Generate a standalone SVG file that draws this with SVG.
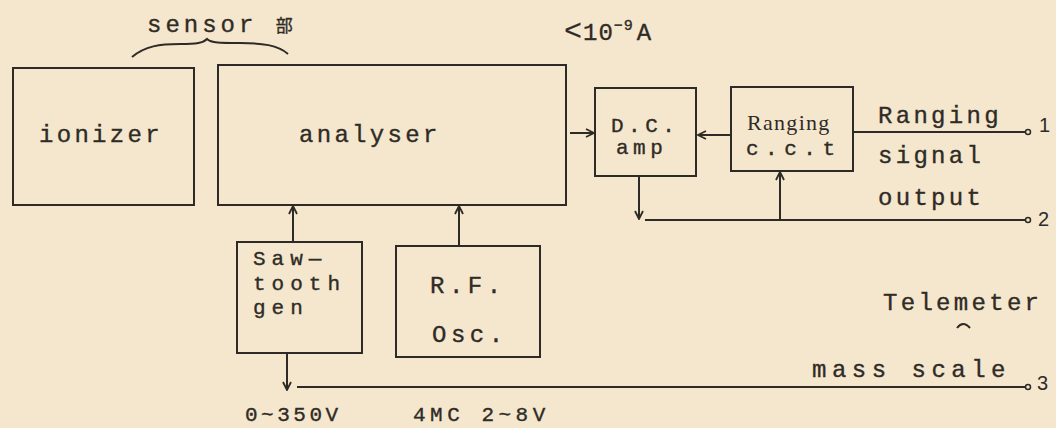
<svg xmlns="http://www.w3.org/2000/svg" width="1056" height="428" viewBox="0 0 1056 428">
<defs>
<style>
.bg{fill:#f4e7cd}
.box{fill:none;stroke:#2e2a25;stroke-width:2}
.ln{fill:none;stroke:#2e2a25;stroke-width:2}
.t{font-family:"Liberation Mono","DejaVu Sans Mono",monospace;font-size:24px;letter-spacing:3.3px;fill:#2f2b26;stroke:#2f2b26;stroke-width:0.35}
.s{font-size:21px;letter-spacing:4.5px}
.n{font-family:"Liberation Sans","DejaVu Sans",sans-serif;font-size:20px;fill:#2f2b26}
.term{fill:#f4e7cd;stroke:#2e2a25;stroke-width:1.5}
</style>
<marker id="ah" viewBox="0 0 10 10" refX="9" refY="5" markerWidth="10" markerHeight="10" markerUnits="userSpaceOnUse" orient="auto">
<path d="M1,1 L9,5 L1,9" fill="none" stroke="#2e2a25" stroke-width="1.8"/>
</marker>
</defs>
<rect class="bg" x="0" y="0" width="1056" height="428"/>

<g id="sensor-label">
<text class="t" x="147" y="32" style="letter-spacing:4px">sensor <tspan font-family="'Noto Sans CJK JP',sans-serif" font-size="17" letter-spacing="0">部</tspan></text>
<path class="ln" d="M132,57 C145,46 160,44 180,44 C197,44 203,43 207,39 C211,43 220,43 240,43 C262,43 278,45 288,54"/>
</g>

<g id="current-label">
<text class="t" x="564" y="40" style="letter-spacing:1px"><tspan font-size="30" stroke-width="0.2">&lt;</tspan>10<tspan font-size="15" dy="-10" letter-spacing="1">−9</tspan><tspan dy="10" dx="3">A</tspan></text>
</g>

<g id="ionizer">
<rect class="box" x="13" y="68" width="181" height="137"/>
<text class="t" x="39" y="142">ionizer</text>
</g>

<g id="analyser">
<rect class="box" x="218" y="65" width="348" height="140"/>
<text class="t" x="299" y="142">analyser</text>
</g>

<g id="dc-amp">
<rect class="box" x="595" y="88" width="101" height="88"/>
<text class="t s" x="611" y="132">D.C.</text>
<text class="t s" x="616" y="154">amp</text>
</g>

<g id="ranging-cct">
<rect class="box" x="731" y="87" width="122" height="84"/>
<text x="747" y="130" font-family="'Liberation Serif',serif" font-size="22" letter-spacing="1.3" fill="#2f2b26">Ranging</text>
<text class="t s" x="746" y="155" style="letter-spacing:6.5px">c.c.t</text>
</g>

<g id="sawtooth-gen">
<rect class="box" x="237" y="242" width="125" height="111"/>
<text class="t s" x="253" y="265" style="letter-spacing:6px">Saw—</text>
<text class="t s" x="253" y="290" style="letter-spacing:6px">tooth</text>
<text class="t s" x="253" y="314" style="letter-spacing:6px">gen</text>
</g>

<g id="rf-osc">
<rect class="box" x="396" y="246" width="144" height="111"/>
<text class="t" x="430" y="293" style="letter-spacing:4.5px">R.F.</text>
<text class="t" x="432" y="342" style="letter-spacing:4.5px">Osc.</text>
</g>

<g id="output-labels">
<text class="t" x="878" y="123">Ranging</text>
<text class="t" x="878" y="163">signal</text>
<text class="t" x="878" y="205">output</text>
<text class="t" x="883" y="310">Telemeter</text>
<path class="ln" d="M957,328 Q963,320 970,328" stroke-width="1.6"/>
<text class="t" x="812" y="377" style="letter-spacing:5.5px">mass scale</text>
<text class="t s" x="245" y="421" style="letter-spacing:3.5px">0~350V</text>
<text class="t s" x="413" y="421" style="letter-spacing:4.5px">4MC 2~8V</text>
<text class="n" x="1039" y="132">1</text>
<text class="n" x="1038" y="226">2</text>
<text class="n" x="1037" y="390">3</text>
</g>

<g id="connectors">
<line class="ln" x1="570" y1="133" x2="594" y2="133" marker-end="url(#ah)"/>
<line class="ln" x1="731" y1="135" x2="698" y2="135" marker-end="url(#ah)"/>
<line class="ln" x1="853" y1="132" x2="1025" y2="132"/>
<circle class="term" cx="1028" cy="132" r="2.5"/>
<line class="ln" x1="639" y1="176" x2="639" y2="219" marker-end="url(#ah)"/>
<line class="ln" x1="645" y1="220" x2="1025" y2="220"/>
<circle class="term" cx="1028" cy="220" r="2.5"/>
<line class="ln" x1="780" y1="220" x2="780" y2="172" marker-end="url(#ah)"/>
<line class="ln" x1="293" y1="242" x2="293" y2="206" marker-end="url(#ah)"/>
<line class="ln" x1="459" y1="246" x2="459" y2="206" marker-end="url(#ah)"/>
<line class="ln" x1="287" y1="353" x2="287" y2="390" marker-end="url(#ah)"/>
<line class="ln" x1="297" y1="387" x2="1025" y2="387"/>
<circle class="term" cx="1028" cy="387" r="2.5"/>
</g>
</svg>
